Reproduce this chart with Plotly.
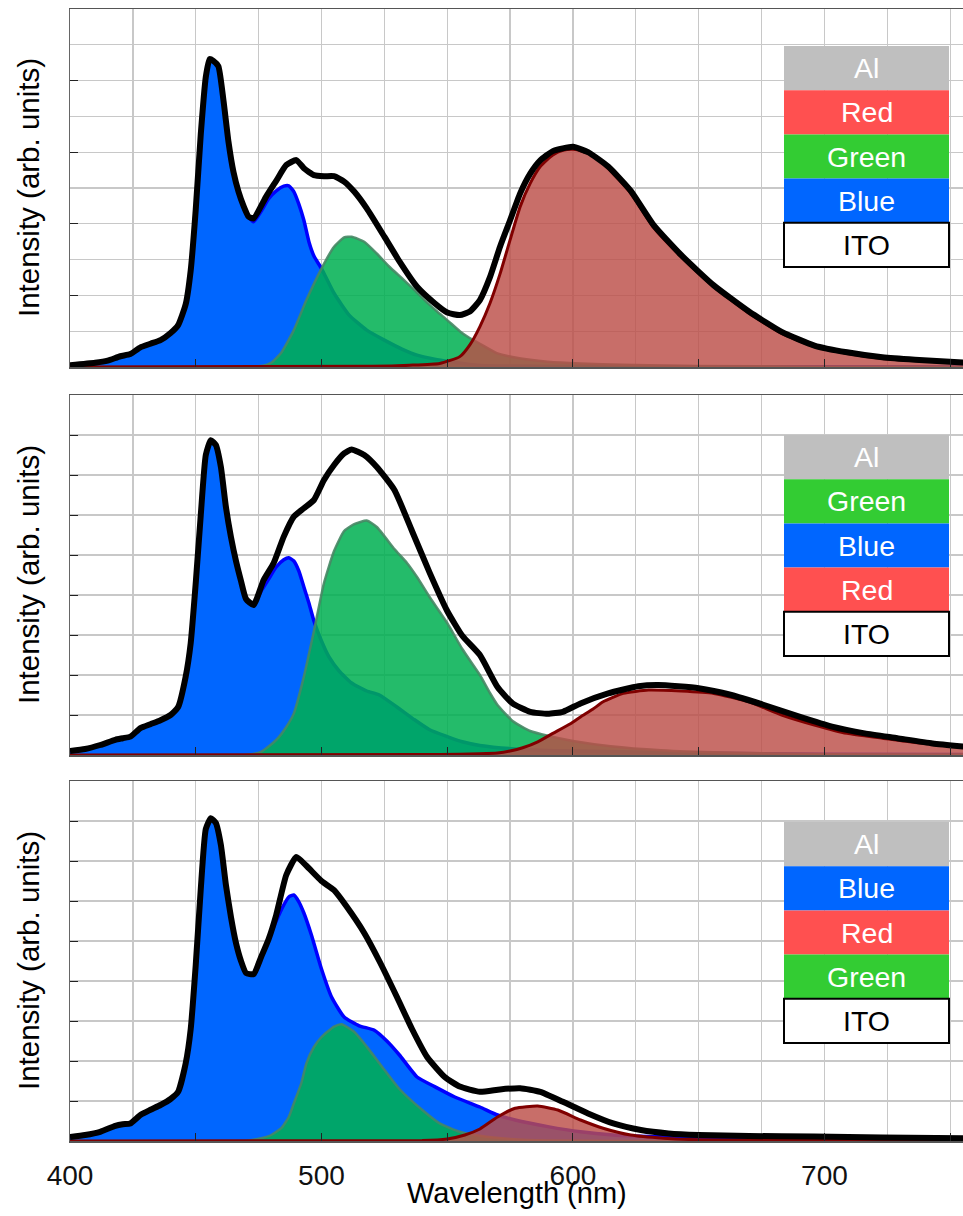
import plotly.graph_objects as go

# ---------------- data ----------------
# Panel 1
B1_x = [400,410,415,420,424,428,432,436,440,443,446,448,450,452,454,455.5,457,459,461,463,465,467,469,471,473,476,479,482,485,487,489,491,493,495,497,500,505,511,518,525,532,538,545,551,556,562,570,600,650,700,756]
B1_y = [0.05,0.12,0.18,0.3,0.36,0.55,0.65,0.75,0.95,1.17,1.75,2.7,4.4,6.5,8.1,8.6,8.55,8.4,7.46,6.3,5.45,4.9,4.5,4.2,4.06,4.35,4.7,4.92,5.05,5.06,4.9,4.55,4.1,3.5,3.1,2.75,2.06,1.45,1.03,0.75,0.5,0.33,0.22,0.15,0.1,0.05,0.03,0.02,0.01,0.01,0.01]
G1_x = [400,470,476,480,484,489,494,500,505,509,512,517,522,527,532,537,541,546,550,555,558,563,570,576,583,590,603,620,650,700,756]
G1_y = [0,0,0.03,0.12,0.4,1.03,1.87,2.75,3.36,3.62,3.64,3.5,3.17,2.8,2.48,2.15,1.87,1.55,1.31,1.0,0.85,0.65,0.38,0.28,0.2,0.15,0.1,0.06,0.03,0.01,0.01]
R1_x = [400,520,535,547,555,559,563,567,571,575,579,583,587,592,596,600,604,608,614,623,632,643,656,670,683,696,709,723,736,756]
R1_y = [0,0.02,0.05,0.1,0.29,0.62,1.13,1.78,2.6,3.55,4.48,5.13,5.6,5.92,6.05,6.08,6.02,5.9,5.55,4.85,3.9,3.08,2.24,1.5,0.94,0.57,0.38,0.24,0.18,0.1]
I1_x = [400,410,415,420,424,428,432,436,440,443,446,448,450,452,454,455.5,457,459,461,463,465,467,469,471,473,478,482,486,490,493,497,501,505,509,513,518,525,531,538,545,550,555,559,563,567,571,575,579,583,587,592,600,606,614,623,632,643,656,670,683,696,709,723,736,756]
I1_y = [0.05,0.12,0.18,0.3,0.36,0.55,0.65,0.75,0.95,1.17,1.75,2.7,4.4,6.5,8.1,8.6,8.55,8.4,7.46,6.3,5.45,4.9,4.5,4.2,4.15,4.76,5.2,5.64,5.78,5.55,5.36,5.33,5.33,5.18,4.9,4.43,3.64,2.95,2.24,1.78,1.52,1.45,1.55,1.87,2.51,3.36,4.1,4.85,5.4,5.77,6.03,6.15,6.0,5.6,4.92,3.97,3.13,2.28,1.55,0.98,0.6,0.41,0.27,0.2,0.12]

# Panel 2
B2_x = [400,406,412,418,421,424,428,432,436,440,443,446,448,450,452,454,456,458,460,462,464,466,468,470,473,476,479,482,485,487,489,491,493,495,497,500,503,507,512,518,523,530,537,543,550,556,563,580,600,650,700,756]
B2_y = [0.1,0.15,0.25,0.38,0.42,0.46,0.67,0.77,0.87,1.0,1.2,1.96,2.8,4.3,6.0,7.5,7.87,7.75,7.2,6.2,5.45,4.85,4.35,3.9,3.75,4.1,4.4,4.7,4.88,4.93,4.85,4.6,4.2,3.8,3.35,2.85,2.45,2.1,1.8,1.6,1.5,1.2,0.88,0.63,0.46,0.33,0.24,0.14,0.1,0.05,0.02,0.01]
G2_x = [400,470,476,482,486,489,493,497,501,505,509,513,518,522,529,534,538,543,550,556,563,567,570,576,583,590,600,615,635,660,700,756]
G2_y = [0,0,0.08,0.375,0.7,1.04,1.96,3.1,4.3,5.1,5.6,5.77,5.86,5.7,5.15,4.8,4.45,3.95,3.3,2.65,2.0,1.55,1.25,0.85,0.6,0.48,0.35,0.22,0.12,0.06,0.02,0.01]
R2_x = [400,540,555,563,570,575,580,586,592,599,603,608,612,620,630,643,656,670,683,696,709,723,736,756]
R2_y = [0,0.01,0.02,0.03,0.05,0.1,0.18,0.33,0.54,0.78,0.95,1.15,1.33,1.54,1.625,1.6,1.54,1.33,1.0,0.75,0.54,0.42,0.31,0.2]
I2_x = [400,406,412,418,421,424,428,432,436,440,443,446,448,450,452,454,456,458,460,462,464,466,468,470,473,477,481,485,489,493,497,501,505,509,512,517,522,529,536,543,550,556,563,570,576,583,590,596,603,614,626,634,650,663,676,690,703,716,729,743,756]
I2_y = [0.1,0.15,0.25,0.38,0.42,0.46,0.67,0.77,0.87,1.0,1.2,1.96,2.8,4.3,6.0,7.5,7.87,7.75,7.2,6.2,5.45,4.85,4.35,3.9,3.75,4.375,4.8,5.46,5.96,6.17,6.375,6.875,7.25,7.54,7.64,7.5,7.2,6.625,5.6,4.56,3.6,2.98,2.5,1.7,1.29,1.08,1.03,1.08,1.29,1.54,1.72,1.75,1.67,1.5,1.25,0.96,0.71,0.54,0.42,0.29,0.21]

# Panel 3
B3_x = [400,406,412,418,421,424,428,432,436,440,443,446,448,450,452,454,456,458,460,462,464,466,468,470,473,476,479,482,485,487,489,491,493,496,500,504,509,515,521,526,531,538,545,553,563,570,577,590,603,616,630,650,670,700,756]
B3_y = [0.1,0.15,0.23,0.38,0.42,0.44,0.65,0.78,0.9,1.05,1.23,1.94,2.8,4.4,6.3,7.8,8.07,7.95,7.4,6.4,5.6,4.95,4.5,4.2,4.17,4.6,5.05,5.5,5.9,6.1,6.15,5.98,5.7,5.15,4.3,3.6,3.1,2.88,2.77,2.5,2.15,1.6,1.36,1.1,0.85,0.65,0.525,0.36,0.23,0.15,0.11,0.09,0.07,0.05,0.03]
G3_x = [400,470,476,480,484,487,489,492,494,497,500,505,508,513,518,525,531,540,547,555,563,575,590,650,756]
G3_y = [0,0,0.07,0.15,0.32,0.6,0.94,1.45,1.94,2.35,2.6,2.86,2.92,2.73,2.36,1.78,1.3,0.78,0.44,0.23,0.13,0.05,0.01,0,0]
R3_x = [400,540,550,557,563,570,577,586,594,603,612,623,636,650,700,756]
R3_y = [0,0.01,0.05,0.15,0.3,0.6,0.82,0.875,0.775,0.525,0.32,0.15,0.07,0.03,0.01,0.01]
I3_x = [400,406,412,418,421,424,428,432,436,440,443,446,448,450,452,454,456,458,460,462,464,466,468,470,473,476,479,482,486,490,494,500,505,510,517,523,530,536,542,549,555,563,571,579,587,596,606,616,627,638,650,670,696,723,756]
I3_y = [0.1,0.15,0.23,0.38,0.42,0.44,0.65,0.78,0.9,1.05,1.23,1.94,2.8,4.4,6.3,7.8,8.07,7.95,7.4,6.4,5.6,4.95,4.5,4.2,4.17,4.6,5.05,5.65,6.65,7.1,6.88,6.5,6.27,5.86,5.2,4.5,3.6,2.8,2.1,1.6,1.36,1.23,1.29,1.32,1.23,0.98,0.69,0.44,0.275,0.19,0.15,0.125,0.11,0.09,0.07]

legend_orders = [
    ["Al", "Red", "Green", "Blue", "ITO"],
    ["Al", "Green", "Blue", "Red", "ITO"],
    ["Al", "Blue", "Red", "Green", "ITO"],
]
x_tickvals = [400, 450, 500, 550, 600, 650, 700, 750]
x_ticktext = ["400", "", "500", "", "600", "", "700", ""]

# ---------------- styling ----------------
W, H = 963, 1216
ML, MR, MT, MB = 70, 0, 9, 75
PW, PH = W - ML - MR, H - MT - MB
FONT = "Liberation Sans, Arial, sans-serif"

def px_x(p):
    return (p - ML) / PW

def px_y(p):
    return (H - MB - p) / PH

panels_px = [(9, 367), (395, 755), (781, 1141)]
legend_top_px = [46, 435, 822]
ROW_H = 44.2
LEG_X0, LEG_X1 = 784, 949

BLUE_FILL = "#0066FF"
BLUE_LINE = "#0000FF"
GREEN_FILL = "rgba(0,176,81,0.86)"
GREEN_LINE = "rgba(70,135,100,0.9)"
RED_FILL = "rgba(188,78,72,0.82)"
RED_LINE = "#800000"
GRID = "#C8C8C8"
LEG_COLORS = {"Al": "#BFBFBF", "Red": "#FF5050", "Green": "#33CC33",
              "Blue": "#0066FF", "ITO": "#FFFFFF"}

series = [
    (B1_x, B1_y, G1_x, G1_y, R1_x, R1_y, I1_x, I1_y),
    (B2_x, B2_y, G2_x, G2_y, R2_x, R2_y, I2_x, I2_y),
    (B3_x, B3_y, G3_x, G3_y, R3_x, R3_y, I3_x, I3_y),
]

fig = go.Figure()
for i, (bx, by, gx, gy, rx, ry, ix, iy) in enumerate(series):
    xa = "x" if i == 0 else f"x{i+1}"
    ya = "y" if i == 0 else f"y{i+1}"
    common = dict(xaxis=xa, yaxis=ya, mode="lines", hoverinfo="skip", showlegend=False)
    fig.add_trace(go.Scatter(x=bx, y=by, fill="tozeroy", fillcolor=BLUE_FILL,
                             line=dict(color=BLUE_LINE, width=3.5, shape="spline", smoothing=0.5), **common))
    fig.add_trace(go.Scatter(x=gx, y=gy, fill="tozeroy", fillcolor=GREEN_FILL,
                             line=dict(color=GREEN_LINE, width=2.5, shape="spline", smoothing=0.5), **common))
    fig.add_trace(go.Scatter(x=rx, y=ry, fill="tozeroy", fillcolor=RED_FILL, cliponaxis=False,
                             line=dict(color=RED_LINE, width=3, shape="spline", smoothing=0.5), **common))
    fig.add_trace(go.Scatter(x=ix, y=iy, line=dict(color="black", width=6, shape="spline", smoothing=0.5),
                             **common))

layout = dict(
    width=W, height=H,
    margin=dict(l=ML, r=MR, t=MT, b=MB),
    paper_bgcolor="white", plot_bgcolor="white",
    showlegend=False, hovermode=False,
    font=dict(family=FONT, size=28, color="black"),
)

for i, (top, bot) in enumerate(panels_px):
    sfx = "" if i == 0 else str(i + 1)
    ymax = 10 if i == 0 else 9
    ytv = list(range(0, ymax + 1, 2)) if i == 0 else list(range(0, ymax + 1))
    layout["xaxis" + sfx] = dict(
        domain=[0, 1], anchor="y" + sfx, range=[400, 755.1],
        tickmode="array", tickvals=x_tickvals,
        ticktext=x_ticktext if i == 2 else [""] * len(x_tickvals),
        showticklabels=(i == 2), ticks="inside", ticklen=8, tickwidth=1, tickcolor="#222",
        showgrid=True, gridcolor=GRID, gridwidth=1.3,
        minor=dict(tickmode="linear", tick0=400, dtick=25, showgrid=True, gridcolor=GRID, gridwidth=1.3, ticks=""),
        showline=True, linecolor="#555", linewidth=1.5, mirror=True, zeroline=False,
        tickfont=dict(family=FONT, size=28, color="#111"),
        ticklabelstandoff=9,
    )
    layout["yaxis" + sfx] = dict(
        domain=[px_y(bot), px_y(top)], anchor="x" + sfx, range=[0, ymax],
        tickmode="array", tickvals=ytv, showticklabels=False,
        ticks="inside", ticklen=8, tickwidth=1, tickcolor="#222",
        showgrid=True, gridcolor=GRID, gridwidth=1.3,
        minor=dict(tickmode="linear", tick0=0, dtick=1, showgrid=True, gridcolor=GRID, gridwidth=1.3, ticks=""),
        showline=True, linecolor="#666", linewidth=1.5, zeroline=False,
    )

fig.update_layout(**layout)

shapes = []
annotations = []
for i, order in enumerate(legend_orders):
    top0 = legend_top_px[i]
    for k, name in enumerate(order):
        y0 = top0 + k * ROW_H
        y1 = y0 + ROW_H
        is_ito = name == "ITO"
        shapes.append(dict(
            type="rect", xref="paper", yref="paper", layer="above",
            x0=px_x(LEG_X0), x1=px_x(LEG_X1), y0=px_y(y1), y1=px_y(y0),
            fillcolor=LEG_COLORS[name],
            line=dict(color="black" if is_ito else LEG_COLORS[name], width=2 if is_ito else 0),
        ))
        annotations.append(dict(
            xref="paper", yref="paper", x=px_x((LEG_X0 + LEG_X1) / 2), y=px_y((y0 + y1) / 2),
            text=name, showarrow=False, xanchor="center", yanchor="middle",
            font=dict(family=FONT, size=28.5, color="black" if is_ito else "white"),
        ))
    top, bot = panels_px[i]
    annotations.append(dict(
        xref="paper", yref="paper", x=px_x(28), y=px_y((top + bot) / 2),
        text="Intensity (arb. units)", textangle=-90, showarrow=False,
        xanchor="center", yanchor="middle",
        font=dict(family=FONT, size=29.5, color="black"),
    ))

annotations.append(dict(
    xref="paper", yref="paper", x=px_x(517), y=px_y(1193),
    text="Wavelength (nm)", showarrow=False, xanchor="center", yanchor="middle",
    font=dict(family=FONT, size=29, color="black"),
))

fig.update_layout(shapes=shapes, annotations=annotations)
fig.write_html("out.html", config={"displayModeBar": False, "staticPlot": True},
               post_script="document.body.style.margin='0px';")
